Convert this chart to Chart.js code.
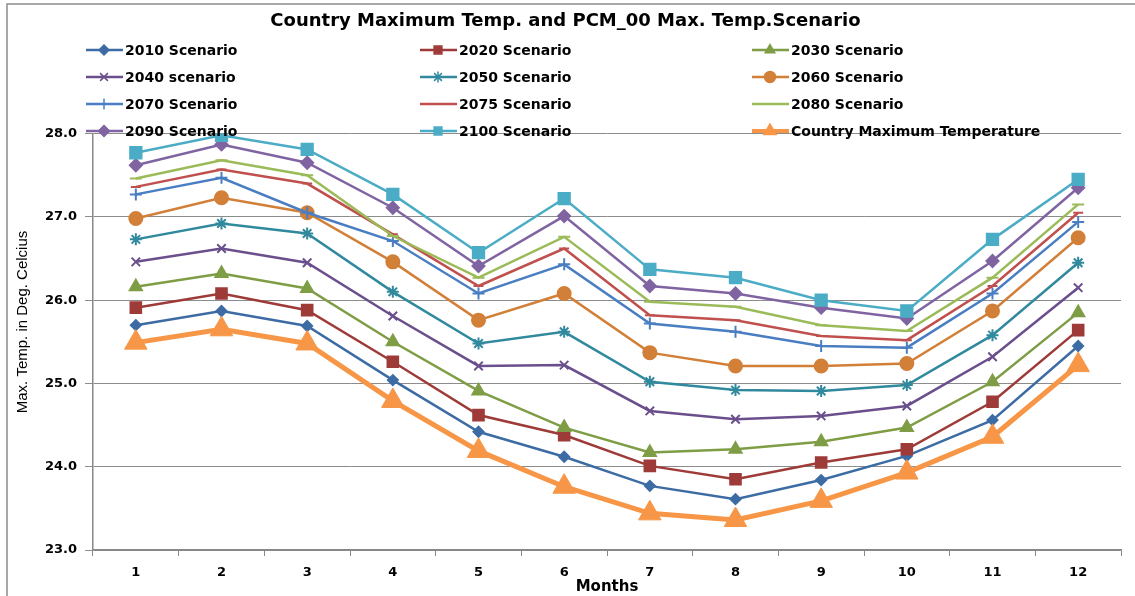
<!DOCTYPE html>
<html>
<head>
<meta charset="utf-8">
<script src="https://cdn.jsdelivr.net/npm/chart.js@4/dist/chart.umd.min.js"></script>
<style>
    body { margin: 0; background: #fff; }
    canvas { display: block; }
</style>
</head>
<body>
<canvas id="tempChart" width="1135" height="596"></canvas>
<script>
// data
const months = ['1', '2', '3', '4', '5', '6', '7', '8', '9', '10', '11', '12'];

const s2010 = [25.70, 25.87, 25.69, 25.04, 24.42, 24.12, 23.77, 23.61, 23.84, 24.13, 24.56, 25.45];
const s2020 = [25.91, 26.08, 25.88, 25.26, 24.62, 24.38, 24.01, 23.85, 24.05, 24.21, 24.78, 25.64];
const s2030 = [26.16, 26.32, 26.14, 25.50, 24.91, 24.47, 24.17, 24.21, 24.30, 24.47, 25.02, 25.85];
const s2040 = [26.46, 26.62, 26.45, 25.81, 25.21, 25.22, 24.67, 24.57, 24.61, 24.73, 25.32, 26.15];
const s2050 = [26.73, 26.92, 26.80, 26.10, 25.48, 25.62, 25.02, 24.92, 24.91, 24.98, 25.58, 26.45];
const s2060 = [26.98, 27.23, 27.05, 26.46, 25.76, 26.08, 25.37, 25.21, 25.21, 25.24, 25.87, 26.75];
const s2070 = [27.27, 27.47, 27.05, 26.71, 26.08, 26.43, 25.72, 25.62, 25.45, 25.43, 26.08, 26.94];
const s2075 = [27.36, 27.57, 27.40, 26.79, 26.17, 26.62, 25.82, 25.76, 25.57, 25.52, 26.17, 27.05];
const s2080 = [27.46, 27.68, 27.50, 26.77, 26.27, 26.76, 25.98, 25.92, 25.70, 25.63, 26.27, 27.15];
const s2090 = [27.62, 27.87, 27.65, 27.11, 26.41, 27.01, 26.17, 26.08, 25.91, 25.78, 26.47, 27.35];
const s2100 = [27.77, 27.98, 27.81, 27.27, 26.57, 27.22, 26.37, 26.27, 26.00, 25.87, 26.73, 27.45];
const countryMax = [25.49, 25.65, 25.48, 24.79, 24.19, 23.76, 23.44, 23.36, 23.59, 23.93, 24.36, 25.22];

const seriesNames = ['2010 Scenario', '2020 Scenario', '2030 Scenario', '2040 scenario', '2050 Scenario',
    '2060 Scenario', '2070 Scenario', '2075 Scenario', '2080 Scenario', '2090 Scenario', '2100 Scenario',
    'Country Maximum Temperature'];
const seriesData = [s2010, s2020, s2030, s2040, s2050, s2060, s2070, s2075, s2080, s2090, s2100, countryMax];

const colors = ['#3D6CA4', '#9E3B38', '#7E9D45', '#6A4F8C', '#31899E', '#D27F38',
    '#4A7EC2', '#C0504D', '#9BBB59', '#8064A2', '#4BACC6', '#F79646'];
const markers = ['rectRot', 'rect', 'triangle', 'crossRot', 'star', 'circle',
    'cross', 'line', 'line', 'rectRot', 'rect', 'triangle'];
const markerSizes = [5, 7.5, 7, 6, 6, 6.5, 6, 5, 6, 6, 8, 13];

const datasets = seriesData.map((data, i) => ({
    label: seriesNames[i],
    data: data,
    borderColor: colors[i],
    backgroundColor: colors[i],
    borderWidth: i === 11 ? 5 : 2.5,
    pointStyle: markers[i],
    pointRadius: markerSizes[i],
    pointBorderWidth: i === 11 ? 1 : 2,
    pointBackgroundColor: colors[i],
    pointBorderColor: colors[i],
    tension: 0,
    order: seriesData.length - i
}));

// legend drawn in three columns, overlapping the top of the plot like the original
const gridLegend = {
    id: 'gridLegend',
    afterDraw(chart) {
        const ctx = chart.ctx;
        const colX = [86, 420, 752];
        const rowY = [50, 77, 104, 131];
        ctx.save();
        chart.data.datasets.forEach((ds, i) => {
            const x = colX[i % 3];
            const y = rowY[Math.floor(i / 3)];
            ctx.strokeStyle = ds.borderColor;
            ctx.fillStyle = ds.borderColor;
            ctx.lineWidth = i === 11 ? 4 : 2.5;
            ctx.beginPath();
            ctx.moveTo(x, y);
            ctx.lineTo(x + 37, y);
            ctx.stroke();
            ctx.lineWidth = 1.5;
            Chart.helpers.drawPoint(ctx, {
                pointStyle: ds.pointStyle,
                radius: i === 11 ? 7 : Math.min(ds.pointRadius, 5.5),
                rotation: 0,
                borderWidth: 1.5
            }, x + 18, y);
            ctx.fillStyle = '#000';
            ctx.font = 'bold 14px "DejaVu Sans"';
            ctx.textBaseline = 'middle';
            ctx.textAlign = 'left';
            ctx.fillText(ds.label, x + 39, y + 1);
        });
        ctx.restore();
    }
};

// outer frame and the narrow vertical axis title, placed as in the original
const frame = {
    id: 'frame',
    beforeDraw(chart) {
        const ctx = chart.ctx;
        ctx.save();
        ctx.strokeStyle = '#8c8c8c';
        ctx.lineWidth = 1.5;
        ctx.strokeRect(7, 4, 1140, 600);
        ctx.translate(23, 322);
        ctx.rotate(-Math.PI / 2);
        ctx.fillStyle = '#000';
        ctx.font = '15px "Liberation Sans Narrow", "Liberation Sans"';
        ctx.textAlign = 'center';
        ctx.textBaseline = 'middle';
        ctx.fillText('Max. Temp. in Deg. Celcius', 0, 0);
        ctx.restore();
    }
};

const ctx = document.getElementById('tempChart').getContext('2d');
new Chart(ctx, {
    type: 'line',
    data: {
        labels: months,
        datasets: datasets
    },
    options: {
        responsive: false,
        devicePixelRatio: 1,
        animation: false,
        layout: {
            padding: { left: 0, right: 4, top: 0, bottom: 0 }
        },
        plugins: {
            legend: { display: false },
            tooltip: { enabled: false },
            title: {
                display: true,
                text: 'Country Maximum Temp. and PCM_00 Max. Temp.Scenario',
                font: { family: 'DejaVu Sans', size: 18, weight: 'bold' },
                color: '#000',
                padding: { top: 11, bottom: 101 }
            }
        },
        scales: {
            x: {
                offset: true,
                grid: {
                    offset: true,
                    drawOnChartArea: false,
                    drawTicks: true,
                    tickLength: 6,
                    color: '#888'
                },
                border: { color: '#888', width: 1.5 },
                ticks: {
                    font: { family: 'DejaVu Sans', size: 13, weight: 'bold' },
                    color: '#000',
                    padding: 9,
                    maxRotation: 0
                },
                title: {
                    display: true,
                    text: 'Months',
                    font: { family: 'DejaVu Sans', size: 15, weight: 'bold' },
                    color: '#000',
                    padding: { top: 0, bottom: 0 }
                },
                afterFit(scale) {
                    scale.height = 46;
                }
            },
            y: {
                min: 23,
                max: 28,
                grid: {
                    color: '#8c8c8c',
                    tickLength: 8
                },
                border: { color: '#888', width: 1.5 },
                ticks: {
                    stepSize: 1,
                    font: { family: 'DejaVu Sans', size: 13, weight: 'bold' },
                    color: '#000',
                    padding: 8,
                    callback: value => value.toFixed(1)
                },
                afterFit(scale) {
                    scale.width = 93;
                }
            }
        }
    },
    plugins: [frame, gridLegend]
});
</script>
</body>
</html>
